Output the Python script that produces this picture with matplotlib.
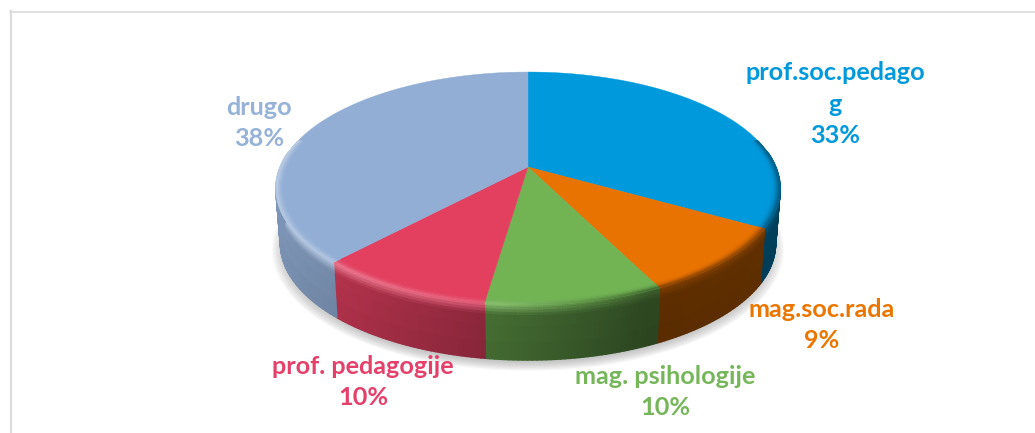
import numpy as np
import matplotlib
matplotlib.use('Agg')
import matplotlib.pyplot as plt
from matplotlib.collections import PolyCollection
from matplotlib.colors import to_rgb

# podaci
kategorije = ['prof.soc.pedago\ng', 'mag.soc.rada', 'mag. psihologije', 'prof. pedagogije', 'drugo']
postoci = [33.3, 9.4, 9.6, 9.6, 38.1]

# boje
boje = ['#0099dc', '#e97300', '#72b454', '#e34060', '#92aed5']
boje_teksta = ['#0099dc', '#ea7600', '#76b65a', '#e5406a', '#96b2d8']
pozicije_teksta = [(835, 104), (822, 325), (665, 392), (363, 382), (259, 123)]

# perspektiva diska
CX, CY = 528, 167
A, B, K = 247.7, 112.5, 0.1845
DUBINA = 55


def projekcija(kut, r=1.0, dubina=0.0):
    u = r * np.sin(kut)
    v = r * np.cos(kut)
    d = 1 + K * v
    skala = 1 - 0.018 * dubina / DUBINA
    return CX + skala * A * u / d, CY - B * v / d + dubina


def mijesaj(a, b, t):
    return tuple((1 - t) * x + t * y for x, y in zip(a, b))


def boja_ruba(boja, kut, s):
    # s < 0 gornji rub diska, s > 0 bocna strana
    boja = to_rgb(boja)
    x = np.sin(kut)
    # svjetlo dolazi slijeva, desno je tamnije
    tama = np.interp(x, [-1, -0.7, -0.15, 0.4, 1], [0.88, 0.8, 0.62, 0.4, 0.42])
    strana = mijesaj((0, 0, 0), boja, tama)
    if s <= 0:
        t = 1 - abs(s)
        sjaj = max(0.0, -x * 0.5 + 0.25)
        svijetla = mijesaj(boja, (1, 1, 1), sjaj * t ** 2 * 0.55)
        tamna = mijesaj(boja, strana, t ** 2 * 0.75)
        return mijesaj(svijetla, tamna, np.clip((x + 0.1) / 0.5, 0, 1))
    if s < 0.2:
        vrh = boja_ruba(boja, kut, 0)
        return mijesaj(vrh, strana, s / 0.2)
    return mijesaj(strana, (0, 0, 0), (s - 0.2) * 0.06)


fig, ax = plt.subplots(figsize=(10.35, 4.33), dpi=100)
fig.subplots_adjust(left=0, right=1, top=1, bottom=0)
ax.set_xlim(0, 1035)
ax.set_ylim(433, 0)
ax.axis('off')

# okvir
ax.plot([11, 11], [433, 11], color='#dcdcdc', lw=1.6, zorder=1)
ax.plot([10, 1035], [11.8, 11.8], color='#dcdcdc', lw=1.2, zorder=1)

# sjena ispod diska
kutovi = np.linspace(0, 2 * np.pi, 240)
for i in range(16):
    sirina = 1.035 - i * 0.0035
    x, y = projekcija(kutovi, sirina, DUBINA + 5)
    ax.fill(x, y, color='#9a9a9a', alpha=0.045, lw=0, zorder=2)

granice = 2 * np.pi * np.cumsum([0] + postoci) / sum(postoci)

# bocna strana
poli = []
poli_boje = []
razine = np.array([0, 0.05, 0.1, 0.15, 0.2, 0.4, 0.7, 1.0])
for i, boja in enumerate(boje):
    n = max(8, int(postoci[i] * 4))
    rub = np.linspace(granice[i], granice[i + 1], n + 1)
    for a, b in zip(rub[:-1], rub[1:]):
        sredina = (a + b) / 2
        if np.cos(sredina) > 0.02 and np.sin(sredina) ** 2 < 0.98:
            continue
        for s0, s1 in zip(razine[:-1], razine[1:]):
            x0, y0 = projekcija(a, 1.0, s0 * DUBINA)
            x1, y1 = projekcija(b, 1.0, s0 * DUBINA)
            x2, y2 = projekcija(b, 1.0, s1 * DUBINA)
            x3, y3 = projekcija(a, 1.0, s1 * DUBINA)
            poli.append([(x0, y0), (x1, y1), (x2, y2), (x3, y3)])
            poli_boje.append(boja_ruba(boja, sredina, (s0 + s1) / 2))
ax.add_collection(PolyCollection(poli, facecolors=poli_boje, edgecolors=poli_boje, linewidths=1.2, zorder=3))

# gornja ploha
for i, boja in enumerate(boje):
    rub = np.linspace(granice[i], granice[i + 1], max(8, int(postoci[i] * 4)) + 1)
    x, y = projekcija(rub)
    ax.fill(np.r_[CX, x], np.r_[CY, y], color=boja, lw=0.3, zorder=4)

# zaobljeni rub na gornjoj plohi
poli = []
poli_boje = []
prsten = np.linspace(0.965, 1.0, 6)
for i, boja in enumerate(boje):
    n = max(8, int(postoci[i] * 4))
    rub = np.linspace(granice[i], granice[i + 1], n + 1)
    for a, b in zip(rub[:-1], rub[1:]):
        sredina = (a + b) / 2
        if np.cos(sredina) > 0.25:
            continue
        for r0, r1 in zip(prsten[:-1], prsten[1:]):
            x0, y0 = projekcija(a, r0)
            x1, y1 = projekcija(b, r0)
            x2, y2 = projekcija(b, r1)
            x3, y3 = projekcija(a, r1)
            poli.append([(x0, y0), (x1, y1), (x2, y2), (x3, y3)])
            s = -1 + ((r0 + r1) / 2 - 0.965) / 0.035
            poli_boje.append(boja_ruba(boja, sredina, s))
ax.add_collection(PolyCollection(poli, facecolors=poli_boje, edgecolors=poli_boje, linewidths=0.6, zorder=5))

# oznake
for naziv, postotak, boja, (x, y) in zip(kategorije, postoci, boje_teksta, pozicije_teksta):
    ax.text(x, y, f'{naziv}\n{postotak:.0f}%', color=boja, fontsize=18.2, fontweight='bold', family='Lato',
            ha='center', va='center', linespacing=1.45, zorder=6)

fig.savefig('out.png', dpi=100)
